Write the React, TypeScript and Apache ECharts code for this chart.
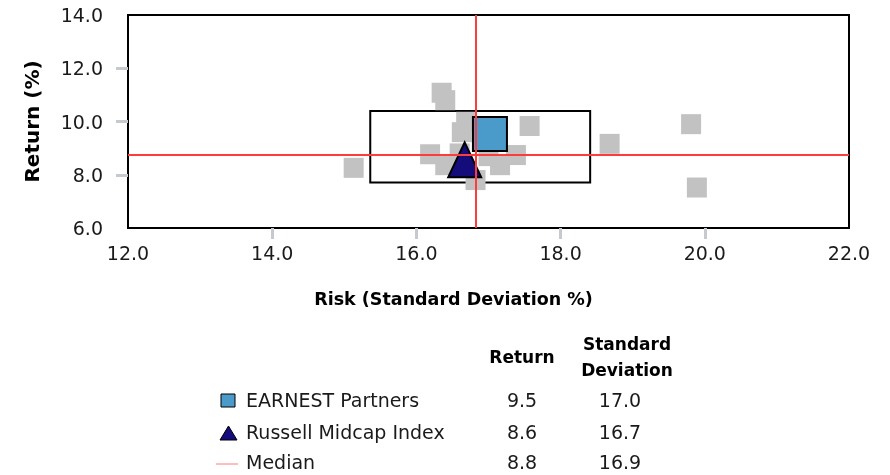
import React, { useEffect, useRef } from "react";
import * as echarts from "echarts";

// ---- data ----
const peerRisk = [16.35, 16.4, 16.69, 16.63, 17.57, 18.68, 15.13, 16.19, 16.4, 16.6, 16.82, 17.16, 17.38, 17.0, 19.81, 19.89];
const peerReturn = [11.08, 10.8, 9.99, 9.6, 9.83, 9.16, 8.26, 8.77, 8.36, 8.8, 7.8, 8.36, 8.74, 8.7, 9.9, 7.52];
const earnestPoint = [17.02, 9.53];
const russellPoint = [16.67, 8.56];
const medianRisk = 16.83;
const medianReturn = 8.76;
const boxRisk = [15.36, 18.41];
const boxReturn = [10.39, 7.71];

const xTicks = [14, 16, 18, 20];
const yTicks = [8, 10, 12];

const legendNames = ["EARNEST Partners", "Russell Midcap Index", "Median"];
const tableReturn = ["9.5", "8.6", "8.8"];
const tableStdDev = ["17.0", "16.7", "16.9"];

const FONT = "DejaVu Sans";
const BLUE = "#4a9bc9";
const NAVY = "#150c7c";
const RED = "#ff3c3c";
const GRAY = "#c2c2c2";
const TXT = "#1a1a1a";

export default function App() {
  const ref = useRef<HTMLDivElement>(null);
  useEffect(() => {
    if (!ref.current) return;
    const chart = echarts.init(ref.current, null, { renderer: "svg" });
    const peers = peerRisk.map((r, i) => [r, peerReturn[i]]);
    const rowY = [400, 432, 462];
    const graphics: any[] = [
      { type: "rect", shape: { x: 221, y: 394, width: 14, height: 13 }, style: { fill: BLUE, stroke: "#000", lineWidth: 1 } },
      { type: "polygon", shape: { points: [[228.5, 426], [220, 440], [237, 440]] }, style: { fill: NAVY, stroke: "#000", lineWidth: 1 } },
      { type: "line", shape: { x1: 216, y1: 464, x2: 238, y2: 464 }, style: { stroke: "#ff7a7a", lineWidth: 1 } },
      { type: "text", x: 522, y: 357, style: { text: "Return", fontFamily: FONT, fontSize: 17, fontWeight: "bold", fill: "#000", align: "center", verticalAlign: "middle" } },
      { type: "text", x: 627, y: 357, style: { text: "Standard\nDeviation", fontFamily: FONT, fontSize: 17, fontWeight: "bold", fill: "#000", align: "center", verticalAlign: "middle", lineHeight: 26 } },
    ];
    legendNames.forEach((n, i) => {
      graphics.push({ type: "text", x: 246, y: rowY[i], style: { text: n, fontFamily: FONT, fontSize: 19, fill: TXT, align: "left", verticalAlign: "middle" } });
      graphics.push({ type: "text", x: 522, y: rowY[i], style: { text: tableReturn[i], fontFamily: FONT, fontSize: 19, fill: TXT, align: "center", verticalAlign: "middle" } });
      graphics.push({ type: "text", x: 620, y: rowY[i], style: { text: tableStdDev[i], fontFamily: FONT, fontSize: 19, fill: TXT, align: "center", verticalAlign: "middle" } });
    });

    chart.setOption({
      animation: false,
      grid: { left: 128, top: 15, width: 721, height: 213, show: true, borderColor: "#000", borderWidth: 2, backgroundColor: "transparent" },
      xAxis: {
        type: "value", min: 12, max: 22, interval: 2,
        axisLine: { show: false }, splitLine: { show: false },
        axisTick: { show: true, customValues: xTicks, length: 11, lineStyle: { color: "#c6cacf", width: 3 } },
        axisLabel: { formatter: (v: number) => v.toFixed(1), fontFamily: FONT, fontSize: 19, color: TXT, margin: 15 },
        name: "Risk (Standard Deviation %)", nameLocation: "middle", nameGap: 62,
        nameTextStyle: { fontFamily: FONT, fontSize: 17.5, fontWeight: "bold", color: "#000", padding: [0, 70, 0, 0] },
      },
      yAxis: {
        type: "value", min: 6, max: 14, interval: 2,
        axisLine: { show: false }, splitLine: { show: false },
        axisTick: { show: true, customValues: yTicks, length: 12, lineStyle: { color: "#c6cacf", width: 3 } },
        axisLabel: { formatter: (v: number) => v.toFixed(1), fontFamily: FONT, fontSize: 19, color: TXT, margin: 25 },
        name: "Return (%)", nameLocation: "middle", nameGap: 86, nameRotate: 90,
        nameTextStyle: { fontFamily: FONT, fontSize: 20, fontWeight: "bold", color: "#000" },
      },
      series: [
        { name: "Peers", type: "scatter", data: peers, symbol: "rect", symbolSize: 20, itemStyle: { color: GRAY, opacity: 1 }, z: 1, silent: true },
        {
          name: "Box", type: "scatter", data: [], z: 2, silent: true,
          markArea: {
            silent: true,
            itemStyle: { color: "rgba(0,0,0,0)", borderColor: "#000", borderWidth: 2 },
            data: [[{ coord: [boxRisk[0], boxReturn[0]] }, { coord: [boxRisk[1], boxReturn[1]] }]],
          },
        },
        { name: "EARNEST Partners", type: "scatter", data: [earnestPoint], symbol: "rect", symbolSize: 34, itemStyle: { color: BLUE, opacity: 1, borderColor: "#000", borderWidth: 2 }, z: 3 },
        { name: "Russell Midcap Index", type: "scatter", data: [russellPoint], symbol: "triangle", symbolSize: [33, 35], itemStyle: { color: NAVY, opacity: 1, borderColor: "#000", borderWidth: 2 }, z: 4 },
        {
          name: "Median", type: "scatter", data: [], z: 5,
          markLine: {
            silent: true, symbol: "none", label: { show: false },
            lineStyle: { color: RED, width: 2, type: "solid", opacity: 1 },
            data: [{ xAxis: medianRisk }, { yAxis: medianReturn }],
          },
        },
      ],
      graphic: graphics,
    });
    return () => chart.dispose();
  }, []);
  return <div ref={ref} style={{ position: "fixed", left: 0, top: 0, width: 890, height: 475 }} />;
}
